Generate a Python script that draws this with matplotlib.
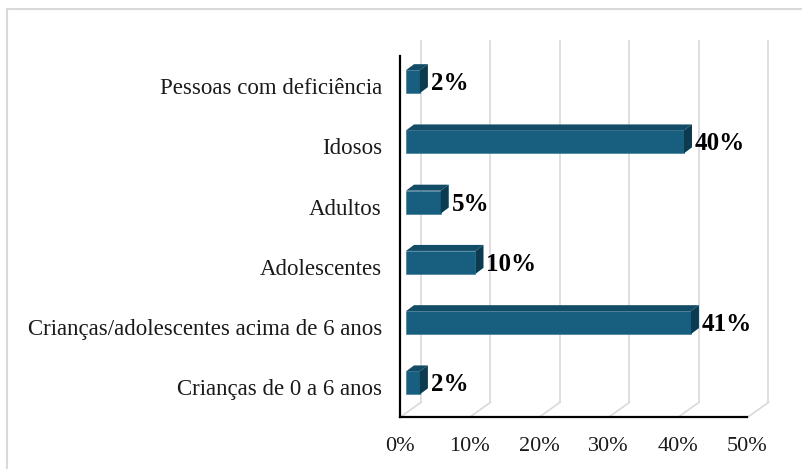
import matplotlib
matplotlib.use("Agg")
import matplotlib.pyplot as plt
import matplotlib.transforms as mtransforms
from matplotlib.patches import Polygon, Rectangle
from matplotlib.lines import Line2D

plt.rcParams['font.family'] = ['Liberation Serif', 'DejaVu Serif']

# data (bottom to top)
categories = ["Crianças de 0 a 6 anos", "Crianças/adolescentes acima de 6 anos",
              "Adolescentes", "Adultos", "Idosos", "Pessoas com deficiência"]
values = [2, 41, 10, 5, 40, 2]
ticks = [0, 10, 20, 30, 40, 50]

front_col = '#185f7f'
top_col = '#134c66'
side_col = '#0d3a4f'
grid_col = '#d9d9d9'

W, H = 803, 469
fig = plt.figure(figsize=(W / 100, H / 100), dpi=100)

# bar plane in pixels
x0, x1 = 406, 406 + 5 * 69.5
ytop, ybot = 51.5, 413
ax = fig.add_axes([x0 / W, (H - ybot) / H, (x1 - x0) / W, (ybot - ytop) / H])
ax.set_xlim(0, 50)
ax.set_ylim(-0.5, 5.5)
ax.axis('off')


def shift(dx, dy, base=None):
    base = ax.transData if base is None else base
    return base + mtransforms.ScaledTranslation(dx / 100, dy / 100, fig.dpi_scale_trans)


front = shift(-6, -4.3)
back = shift(15, 10.7)
ident = mtransforms.IdentityTransform()

# back wall gridlines and floor lines
for t in ticks:
    ax.plot([t, t], [-0.5, 5.5], color=grid_col, lw=1.2, transform=back, clip_on=False)
    p1 = front.transform((t, -0.5))
    p2 = back.transform((t, -0.5))
    ax.add_line(Line2D([p1[0], p2[0]], [p1[1], p2[1]], color=grid_col, lw=1.2,
                       transform=ident, clip_on=False))

# front axes lines
ax.plot([0, 50], [-0.5, -0.5], color='black', lw=1.6, transform=front, clip_on=False)
ax.plot([0, 0], [-0.5, 5.5], color='black', lw=1.6, transform=front, clip_on=False)

# bars
ypos = list(range(len(categories)))
h = 0.38
ax.barh(ypos, values, height=h, color=front_col, edgecolor='#3f7f9c', lw=0.5, zorder=3)
dx, dy = 8, 6
for y, v in zip(ypos, values):
    tl = ax.transData.transform((0, y + h / 2))
    tr = ax.transData.transform((v, y + h / 2))
    br = ax.transData.transform((v, y - h / 2))
    top = [tl, tr, (tr[0] + dx, tr[1] + dy), (tl[0] + dx, tl[1] + dy)]
    side = [br, tr, (tr[0] + dx, tr[1] + dy), (br[0] + dx, br[1] + dy)]
    ax.add_patch(Polygon(top, closed=True, facecolor=top_col, edgecolor='none',
                         transform=ident, clip_on=False, zorder=3))
    ax.add_patch(Polygon(side, closed=True, facecolor=side_col, edgecolor='none',
                         transform=ident, clip_on=False, zorder=3))
    ax.text(v, y, f"{v}%", transform=shift(dx + 3, -2), ha='left', va='center',
            fontsize=18, fontweight='bold', color='black', clip_on=False)

# category labels
lab_tr = shift(0, -7, mtransforms.blended_transform_factory(fig.transFigure, ax.transData))
for y, c in zip(ypos, categories):
    fig.text(382 / W, y, c, transform=lab_tr, ha='right', va='center',
             fontsize=16.5, color='#1a1a1a')

# x tick labels
for t in ticks:
    ax.text(t, -0.5, f"{t}%", transform=shift(-6, -4.3 - 29), ha='center', va='center',
            fontsize=16, color='#1a1a1a', clip_on=False)

# outer frame
fig.add_artist(Rectangle((7 / W, -0.05), 1.0, (H - 9) / H + 0.05, fill=False,
                         edgecolor=grid_col, lw=1.5, transform=fig.transFigure))

fig.savefig('out.png', dpi=100)
